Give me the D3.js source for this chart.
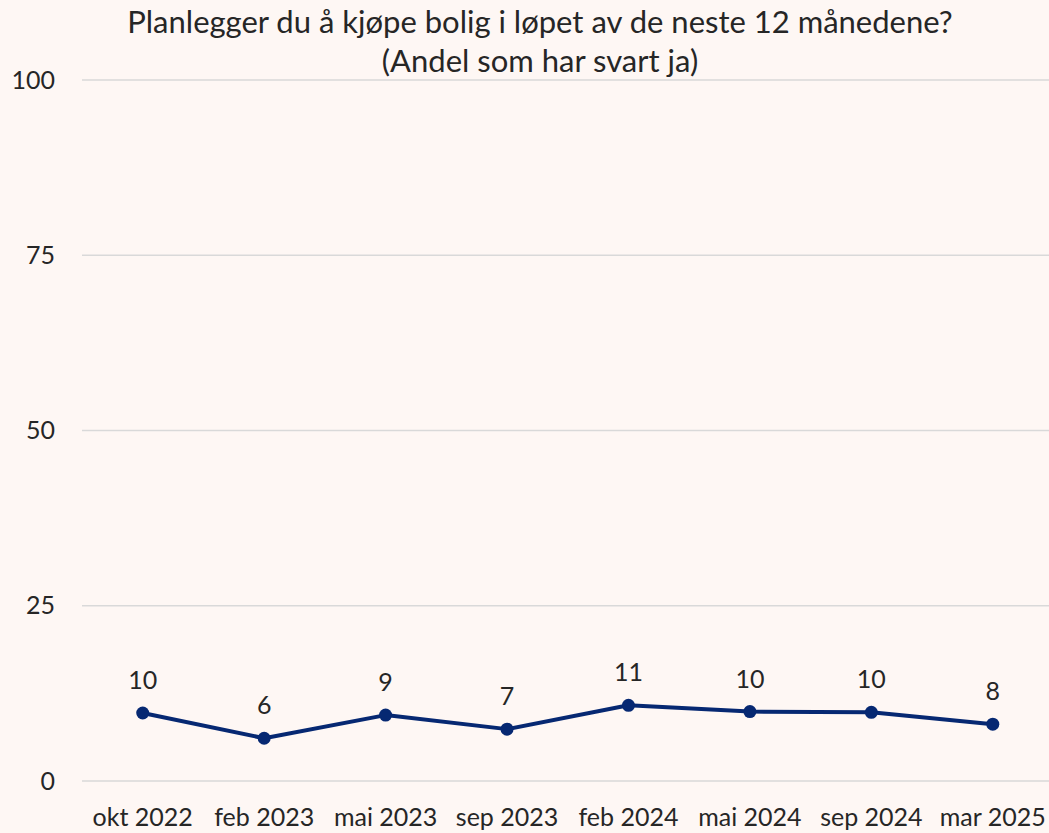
<!DOCTYPE html>
<html><head><meta charset="utf-8">
<script src="https://cdn.jsdelivr.net/npm/d3@7"></script>
<style>body{margin:0;background:#FEF7F4;}svg{display:block;}</style>
</head><body>
<svg id="c" width="1049" height="833"></svg>
<script>
const categories = ["okt 2022","feb 2023","mai 2023","sep 2023","feb 2024","mai 2024","sep 2024","mar 2025"];
const values = [9.7, 6.1, 9.4, 7.4, 10.8, 9.9, 9.8, 8.1];
const labels = ["10","6","9","7","11","10","10","8"];
const yTicks = [0, 25, 50, 75, 100];
const titleLines = ["Planlegger du å kjøpe bolig i løpet av de neste 12 månedene?", "(Andel som har svart ja)"];

const svg = d3.select("#c");
const font = "Lato, 'Open Sans', sans-serif";
const textColor = "#262626";
const lineColor = "#062872";

svg.append("rect").attr("width",1049).attr("height",833).attr("fill","#FEF7F4");

const x = d3.scaleBand().domain(categories).range([82, 1053.5]);
const y = d3.scaleLinear().domain([0,100]).range([781, 80]);

// gridlines
svg.append("g").selectAll("line").data(yTicks).join("line")
  .attr("x1",82).attr("x2",1049)
  .attr("y1",d=>y(d)).attr("y2",d=>y(d))
  .attr("stroke","#D9D9D9").attr("stroke-width",1.5);

// y axis
const yAxis = svg.append("g").attr("transform","translate(55,0)")
  .call(d3.axisLeft(y).tickValues(yTicks).tickSize(0).tickPadding(0));
yAxis.select(".domain").remove();
yAxis.selectAll("text").attr("font-family",font).attr("font-size",25).attr("fill",textColor);

// x axis
const xAxis = svg.append("g").attr("transform","translate(0,781)")
  .call(d3.axisBottom(x).tickSize(0).tickPadding(27));
xAxis.select(".domain").remove();
xAxis.selectAll("text").attr("font-family",font).attr("font-size",25).attr("fill",textColor);

const cx = d => x(d) + x.bandwidth()/2;

svg.append("path").datum(values)
  .attr("fill","none").attr("stroke",lineColor).attr("stroke-width",4)
  .attr("stroke-linejoin","round")
  .attr("d", d3.line().x((d,i)=>cx(categories[i])).y(d=>y(d)));

svg.append("g").selectAll("circle").data(values).join("circle")
  .attr("cx",(d,i)=>cx(categories[i])).attr("cy",d=>y(d)).attr("r",6.5)
  .attr("fill",lineColor);

svg.append("g").selectAll("text").data(values).join("text")
  .attr("x",(d,i)=>cx(categories[i])).attr("y",d=>y(d)-24)
  .attr("text-anchor","middle").attr("font-family",font).attr("font-size",25)
  .attr("fill",textColor).text((d,i)=>labels[i]);

svg.append("g").selectAll("text").data(titleLines).join("text")
  .attr("x",540).attr("y",(d,i)=>33 + i*39)
  .attr("text-anchor","middle").attr("font-family",font).attr("font-size",31)
  .attr("fill",textColor).text(d=>d);
</script>
</body></html>
